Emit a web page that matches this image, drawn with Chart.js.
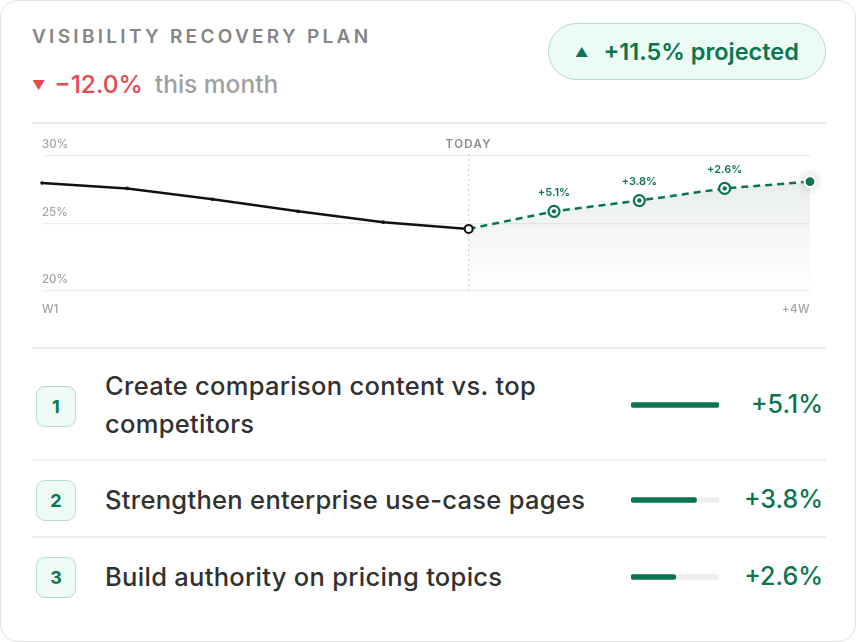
<!DOCTYPE html>
<html>
<head>
<meta charset="utf-8">
<script src="https://cdn.jsdelivr.net/npm/chart.js@4.4.1/dist/chart.umd.min.js"></script>
<style>
  html, body { margin: 0; padding: 0; background: #fff; }
  body { width: 856px; height: 642px; overflow: hidden; font-family: Inter, "Noto Sans", sans-serif; position: relative; }
  .card { position: absolute; left: 0; top: 0; width: 854px; height: 640px; border: 1px solid #e3e3e3; border-radius: 18px; background: #fff; }
  .title { position: absolute; left: 32px; top: 25px; font-size: 19px; font-weight: 600; letter-spacing: 3.3px; color: #858585; }
  .delta { position: absolute; left: 32px; top: 69px; font-size: 24.5px; font-weight: 500; white-space: nowrap; }
  .delta .down { color: #e5484d; }
  .delta .down .tri { font-size: 13px; margin-right: 9px; vertical-align: 3px; }
  .delta .muted { color: #a0a0a0; margin-left: 12px; }
  .pill { position: absolute; left: 548px; top: 23px; width: 276px; height: 55px; border: 1.5px solid #b5dcca; border-radius: 29px; background: #ecfcf4;
          display: flex; align-items: center; justify-content: center; color: #0b7550; font-size: 23.5px; font-weight: 600; }
  .pill .tri { font-size: 13px; margin-right: 15px; }
  .rule { position: absolute; left: 32px; width: 794px; height: 2px; background: #ebebe7; }
  .chart-box { position: absolute; left: 32px; top: 126px; width: 794px; height: 210px; }
  .list { position: absolute; left: 32px; top: 349px; width: 794px; }
  .row { display: flex; align-items: center; padding: 17px 0 17px 4px; border-bottom: 2px solid #efefef; }
  .row:last-child { border-bottom: none; }
  .badge { width: 38px; height: 39px; flex: none; border: 1.5px solid #b5dcca; border-radius: 9px; background: #edfbf4; color: #0b7550;
           font-weight: 700; font-size: 18px; display: flex; align-items: center; justify-content: center; position: relative; top: 2px; }
  .action { width: 500px; margin-left: 29px; font-size: 25.5px; font-weight: 500; letter-spacing: 0.3px; line-height: 38px; color: #313131; position: relative; top: 1px; }
  .bar { width: 88px; height: 10px; margin-left: 26px; flex: none; position: relative; top: 1px; }
  .gain { width: 104px; text-align: right; font-size: 25px; font-weight: 500; color: #0b7550; }
</style>
</head>
<body>
<div class="card"></div>
<div class="title">VISIBILITY RECOVERY PLAN</div>
<div class="delta"><span class="down"><span class="tri">&#9660;</span>&minus;12.0%</span><span class="muted">this month</span></div>
<div class="pill" id="pill"></div>
<div class="rule" style="top:122px"></div>
<div class="chart-box"><canvas id="trend"></canvas></div>
<div class="rule" style="top:347px"></div>
<div class="list" id="list"></div>

<script>
// weekly visibility share (%)
const weeks = ['W1', 'W2', 'W3', 'W4', 'W5', 'Today', '+1W', '+2W', '+3W', '+4W'];
const historyValues = [28.0, 27.6, 26.8, 25.9, 25.1, 24.6, null, null, null, null];
const projectedValues = [null, null, null, null, null, 24.6, 25.9, 26.7, 27.6, 28.1];
const yTicks = [20, 25, 30];

// recovery actions and their expected gain (%)
const actions = [
  'Create comparison content vs. top competitors',
  'Strengthen enterprise use-case pages',
  'Build authority on pricing topics'
];
const gains = [5.1, 3.8, 2.6];

const green = '#0b7550';
const todayIndex = historyValues.findLastIndex(v => v !== null);
const lastIndex = weeks.length - 1;
const fmtGain = v => '+' + v.toFixed(1) + '%';

document.getElementById('pill').innerHTML =
  '<span class="tri">&#9650;</span>' + fmtGain(gains.reduce((a, b) => a + b, 0)) + '&nbsp;projected';

const overlay = {
  id: 'overlay',
  beforeDatasetsDraw(chart) {
    const { ctx, chartArea, scales } = chart;
    const tx = scales.x.getPixelForValue(todayIndex);
    ctx.save();
    // dashed "today" marker
    ctx.strokeStyle = '#c9c9c9';
    ctx.lineWidth = 1;
    ctx.setLineDash([2, 3]);
    ctx.beginPath();
    ctx.moveTo(tx, chartArea.top - 2);
    ctx.lineTo(tx, chartArea.bottom + 3);
    ctx.stroke();
    ctx.setLineDash([]);

    // y labels sit above their grid line
    ctx.font = '500 11.5px Inter';
    ctx.fillStyle = '#a3a3a3';
    ctx.textAlign = 'left';
    ctx.textBaseline = 'middle';
    yTicks.forEach(t => ctx.fillText(t + '%', chartArea.left, scales.y.getPixelForValue(t) - 11));

    // first / last week
    ctx.fillText(weeks[0], chartArea.left, chartArea.bottom + 19);
    ctx.textAlign = 'right';
    ctx.letterSpacing = '0.5px';
    ctx.fillText(weeks[lastIndex], chartArea.right, chartArea.bottom + 19);

    ctx.font = '600 11.5px Inter';
    ctx.letterSpacing = '1.3px';
    ctx.fillStyle = '#8c8c8c';
    ctx.textAlign = 'center';
    ctx.fillText(weeks[todayIndex].toUpperCase(), tx, chartArea.top - 11);

    // soft halo behind the end point
    const end = chart.getDatasetMeta(1).data[lastIndex];
    const g = ctx.createRadialGradient(end.x, end.y, 3, end.x, end.y, 14);
    g.addColorStop(0, 'rgba(0,0,0,0.10)');
    g.addColorStop(1, 'rgba(0,0,0,0)');
    ctx.fillStyle = g;
    ctx.beginPath();
    ctx.arc(end.x, end.y, 14, 0, Math.PI * 2);
    ctx.fill();
    ctx.restore();
  },
  afterDatasetsDraw(chart) {
    const { ctx } = chart;
    const meta = chart.getDatasetMeta(1);
    ctx.save();
    ctx.fillStyle = green;
    ctx.font = '600 11px Inter';
    ctx.textAlign = 'center';
    ctx.textBaseline = 'middle';
    gains.forEach((gain, i) => {
      const p = meta.data[todayIndex + 1 + i];
      ctx.beginPath();
      ctx.arc(p.x, p.y, 2.2, 0, Math.PI * 2);
      ctx.fill();
      ctx.fillText(fmtGain(gain), p.x, p.y - 19);
    });
    ctx.restore();
  }
};

new Chart(document.getElementById('trend'), {
  type: 'line',
  data: {
    labels: weeks,
    datasets: [
      {
        data: historyValues,
        borderColor: '#111',
        borderWidth: 2.5,
        tension: 0,
        pointRadius: c => c.dataIndex === todayIndex ? 4 : 1.8,
        pointBackgroundColor: c => c.dataIndex === todayIndex ? '#fff' : '#111',
        pointBorderColor: '#111',
        pointBorderWidth: c => c.dataIndex === todayIndex ? 2 : 0,
        clip: false
      },
      {
        data: projectedValues,
        borderColor: green,
        borderWidth: 2.5,
        borderDash: [7, 5],
        tension: 0,
        fill: 'start',
        backgroundColor: c => {
          const { ctx, chartArea } = c.chart;
          if (!chartArea) return 'transparent';
          const g = ctx.createLinearGradient(0, chartArea.top, 0, chartArea.bottom);
          g.addColorStop(0, 'rgba(45,95,72,0.13)');
          g.addColorStop(1, 'rgba(45,95,72,0)');
          return g;
        },
        pointRadius: c => c.dataIndex === todayIndex ? 0 : 5.5,
        pointBackgroundColor: c => c.dataIndex === lastIndex ? green : '#fff',
        pointBorderColor: c => c.dataIndex === lastIndex ? '#fff' : green,
        pointBorderWidth: 2.2,
        clip: false
      }
    ]
  },
  options: {
    responsive: true,
    maintainAspectRatio: false,
    animation: false,
    layout: { padding: { left: 10, right: 16, top: 30, bottom: 45 } },
    plugins: { legend: { display: false }, tooltip: { enabled: false } },
    scales: {
      x: { display: false, offset: false },
      y: {
        min: 20,
        max: 30,
        afterBuildTicks: s => { s.ticks = yTicks.map(v => ({ value: v })); },
        grid: { color: '#ececec', lineWidth: 1.2, drawTicks: false },
        border: { display: false },
        ticks: { display: false }
      }
    }
  },
  plugins: [overlay]
});

// action rows with a small progress bar each
const list = document.getElementById('list');
const maxGain = Math.max(...gains);
actions.forEach((text, i) => {
  const row = document.createElement('div');
  row.className = 'row';
  row.innerHTML =
    '<div class="badge">' + (i + 1) + '</div>' +
    '<div class="action">' + text + '</div>' +
    '<div class="bar"><canvas></canvas></div>' +
    '<div class="gain">' + fmtGain(gains[i]) + '</div>';
  list.appendChild(row);

  new Chart(row.querySelector('canvas'), {
    type: 'bar',
    data: {
      labels: [text],
      datasets: [
        { data: [gains[i]], backgroundColor: green, barThickness: 5, borderRadius: 3, borderSkipped: false, grouped: false },
        { data: [maxGain], backgroundColor: '#eeeeee', barThickness: 5, borderRadius: 3, borderSkipped: false, grouped: false }
      ]
    },
    options: {
      indexAxis: 'y',
      responsive: true,
      maintainAspectRatio: false,
      animation: false,
      layout: { padding: 0 },
      plugins: { legend: { display: false }, tooltip: { enabled: false } },
      scales: {
        x: { display: false, min: 0, max: maxGain },
        y: { display: false }
      }
    }
  });
});
</script>
</body>
</html>
